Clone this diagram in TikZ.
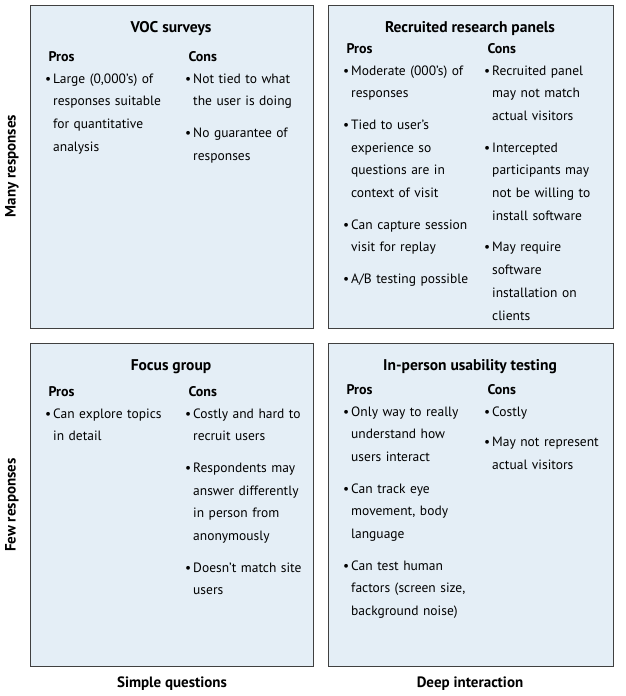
\documentclass[tikz,border=0pt]{standalone}
\usepackage{fontspec}
\setmainfont{PT Sans}
\newcommand{\itm}[1]{\noindent\makebox[8pt][l]{\textbullet}\parbox[t]{120pt}{\raggedright\strut #1\strut}\par}
\definecolor{bfill}{HTML}{E4EEF6}
\begin{document}
\begin{tikzpicture}[x=1pt,y=-1pt,
  box/.style={draw=black!75,line width=0.8pt,fill=bfill},
  ttl/.style={font=\fontsize{15.5}{18}\selectfont\bfseries,anchor=base},
  hd/.style={font=\fontsize{14}{17}\selectfont\bfseries,anchor=base west},
  col/.style={font=\fontsize{13.5}{22.7}\selectfont\setlength{\parskip}{8pt},anchor=north west,text width=130pt,inner sep=0pt},
  ax/.style={font=\fontsize{15}{18}\selectfont\bfseries}]
\useasboundingbox (0,0) rectangle (625,696);
\path[box] (30,5) rectangle (313,328);
\path[box] (328,5) rectangle (613,328);
\path[box] (30,343) rectangle (313,666);
\path[box] (328,343) rectangle (613,666);
% top-left
\node[ttl] (t1) at (171,32) {VOC surveys};
\node[hd] (p1) at (45,61) {Pros};
\node[hd] (c1) at (185,61) {Cons};
\node[col] (pl1) at (45,67) {\itm{Large (0,000's) of\\responses suitable\\for quantitative\\analysis}};
\node[col] (cl1) at (185,67) {\itm{Not tied to what\\the user is doing}\itm{No guarantee of\\responses}};
% top-right
\node[ttl] (t2) at (470,32) {Recruited research panels};
\node[hd] (p2) at (343,53) {Pros};
\node[hd] (c2) at (484,53) {Cons};
\node[col] (pl2) at (343,59) {\itm{Moderate (000's) of\\responses}\itm{Tied to user's\\experience so\\questions are in\\context of visit}\itm{Can capture session\\visit for replay}\itm{A/B testing possible}};
\node[col] (cl2) at (484,59) {\itm{Recruited panel\\may not match\\actual visitors}\itm{Intercepted\\participants may\\not be willing to\\install software}\itm{May require\\software\\installation on\\clients}};
% bottom-left
\node[ttl] (t3) at (171,370) {Focus group};
\node[hd] (p3) at (45,396) {Pros};
\node[hd] (c3) at (185,396) {Cons};
\node[col] (pl3) at (45,402) {\itm{Can explore topics\\in detail}};
\node[col] (cl3) at (185,402) {\itm{Costly and hard to\\recruit users}\itm{Respondents may\\answer differently\\in person from\\anonymously}\itm{Doesn't match site\\users}};
% bottom-right
\node[ttl] (t4) at (470,370) {In-person usability testing};
\node[hd] (p4) at (343,394) {Pros};
\node[hd] (c4) at (484,394) {Cons};
\node[col] (pl4) at (343,400) {\itm{Only way to really\\understand how\\users interact}\itm{Can track eye\\movement, body\\language}\itm{Can test human\\factors (screen size,\\background noise)}};
\node[col] (cl4) at (484,400) {\itm{Costly}\itm{May not represent\\actual visitors}};
% axes
\node[ax,rotate=90] (a1) at (12,166) {Many responses};
\node[ax,rotate=90] (a2) at (12,505) {Few responses};
\node[ax] (a3) at (172,684) {Simple questions};
\node[ax] (a4) at (470,684) {Deep interaction};
\end{tikzpicture}
\end{document}
